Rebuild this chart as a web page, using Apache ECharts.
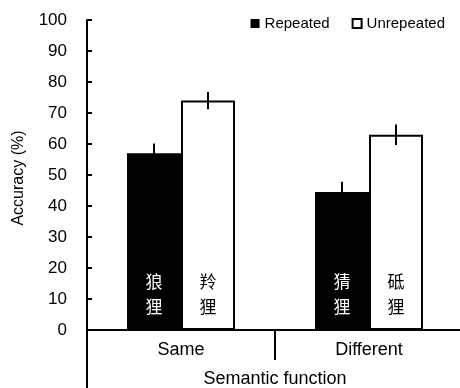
<!DOCTYPE html>
<html>
<head>
<meta charset="utf-8">
<style>
  html, body { margin: 0; padding: 0; background: #fff; }
  #chart { width: 460px; height: 388px; }
</style>
<script src="https://cdn.jsdelivr.net/npm/echarts@6/dist/echarts.min.js"></script>
</head>
<body>
<div id="chart"></div>
<script>
// categories and values
var categories = ['Same', 'Different'];
var repeated = [57, 44.5];
var unrepeated = [74, 63];
var repeatedErr = [3.2, 3.3];
var unrepeatedErr = [2.8, 3.3];
var repeatedWords = ['狼\n狸', '猜\n狸'];
var unrepeatedWords = ['羚\n狸', '砥\n狸'];
var yTicks = [0, 10, 20, 30, 40, 50, 60, 70, 80, 90, 100];

var FONT = '"Liberation Sans", Arial, sans-serif';
var CJK = '"Noto Sans CJK SC", sans-serif';
var BAR_W = 54;
// y axis runs 20 units below zero; 3.1 px per unit
var X_AXIS_LIFT = 62;

function errData(vals, errs) {
  return vals.map(function (v, i) {
    return [i, v - errs[i], v + errs[i]];
  });
}

// vertical error line, shifted onto its bar
function errRenderer(shift) {
  return function (params, api) {
    var lo = api.coord([api.value(0), api.value(1)]);
    var hi = api.coord([api.value(0), api.value(2)]);
    return {
      type: 'line',
      shape: { x1: lo[0] + shift, y1: lo[1], x2: hi[0] + shift, y2: hi[1] },
      style: { stroke: '#000', lineWidth: 2 }
    };
  };
}

var chart = echarts.init(document.getElementById('chart'), null, { renderer: 'canvas' });

chart.setOption({
  backgroundColor: '#ffffff',
  animation: false,
  textStyle: { fontFamily: FONT, color: '#000' },
  legend: {
    right: 10,
    top: 11,
    itemWidth: 9,
    itemHeight: 9,
    itemGap: 22,
    textStyle: { fontSize: 15, color: '#000', fontFamily: FONT },
    data: [
      { name: 'Repeated', icon: 'rect', itemStyle: { color: '#000', borderWidth: 0 } },
      { name: 'Unrepeated', icon: 'rect', itemStyle: { color: '#fff', borderColor: '#000', borderWidth: 2 } }
    ]
  },
  grid: { left: 87, right: -3, top: 20, bottom: -4, containLabel: false, outerBoundsMode: 'none' },
  xAxis: {
    type: 'category',
    data: categories,
    position: 'bottom',
    offset: -X_AXIS_LIFT,
    name: 'Semantic function',
    nameLocation: 'middle',
    nameGap: 40,
    nameTextStyle: { fontSize: 18, color: '#000', fontFamily: FONT },
    axisLine: { onZero: false, lineStyle: { color: '#000', width: 2 } },
    axisTick: { show: true, alignWithLabel: false, length: 30, lineStyle: { color: '#000', width: 2 } },
    axisLabel: { fontSize: 18, color: '#000', margin: 11, fontFamily: FONT },
    splitLine: { show: false }
  },
  yAxis: {
    type: 'value',
    min: -20,
    max: 100,
    interval: 10,
    name: 'Accuracy (%)',
    nameLocation: 'middle',
    nameGap: 60,
    nameTextStyle: { fontSize: 16, color: '#000', fontFamily: FONT, padding: [0, 0, 0, 56] },
    axisLine: { show: true, lineStyle: { color: '#000', width: 2 } },
    axisTick: { show: true, inside: true, length: 5, customValues: yTicks, lineStyle: { color: '#000', width: 2 } },
    axisLabel: {
      fontSize: 17,
      color: '#000',
      margin: 20,
      fontFamily: FONT,
      customValues: yTicks,
      formatter: function (v) { return v < 0 ? '' : String(v); }
    },
    splitLine: { show: false }
  },
  series: [
    {
      name: 'Repeated',
      type: 'bar',
      data: repeated,
      barWidth: BAR_W,
      barGap: '0%',
      itemStyle: { color: '#000' },
      label: {
        show: true,
        position: 'insideBottom',
        distance: 11,
        color: '#fff',
        fontFamily: CJK,
        fontSize: 17,
        lineHeight: 25,
        formatter: function (p) { return repeatedWords[p.dataIndex]; }
      }
    },
    {
      name: 'Unrepeated',
      type: 'bar',
      data: unrepeated,
      barWidth: BAR_W,
      barGap: '0%',
      itemStyle: { color: '#fff', borderColor: '#000', borderWidth: 2 },
      label: {
        show: true,
        position: 'insideBottom',
        distance: 11,
        color: '#000',
        fontFamily: CJK,
        fontSize: 17,
        lineHeight: 25,
        formatter: function (p) { return unrepeatedWords[p.dataIndex]; }
      }
    },
    {
      type: 'custom',
      renderItem: errRenderer(-BAR_W / 2),
      data: errData(repeated, repeatedErr),
      z: 5
    },
    {
      type: 'custom',
      renderItem: errRenderer(BAR_W / 2),
      data: errData(unrepeated, unrepeatedErr),
      z: 5
    }
  ]
});
</script>
</body>
</html>
